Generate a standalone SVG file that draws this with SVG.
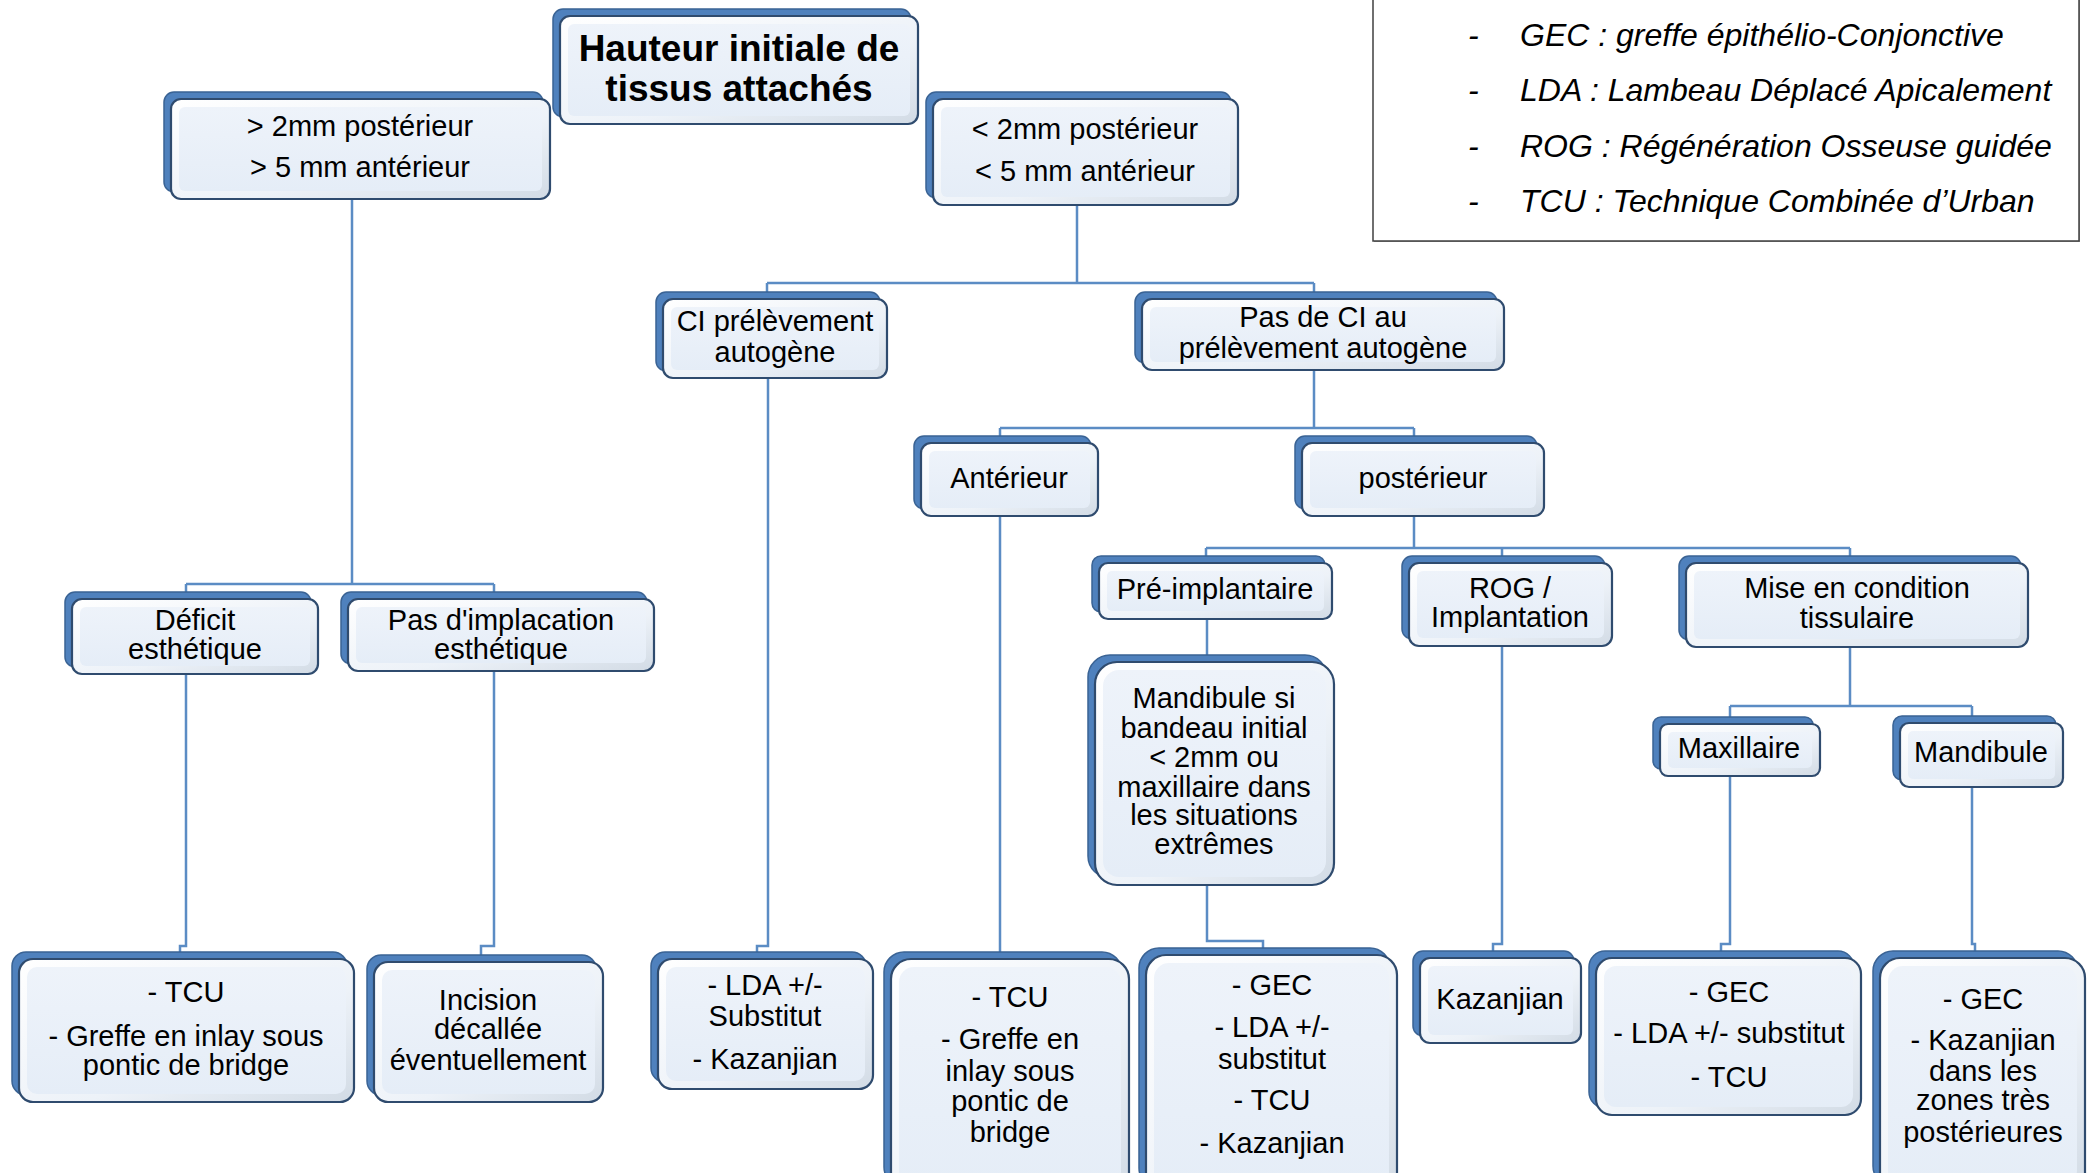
<svg xmlns="http://www.w3.org/2000/svg" width="2092" height="1173" viewBox="0 0 2092 1173">
<defs>
<linearGradient id="face" x1="0" y1="0" x2="1" y2="1">
<stop offset="0" stop-color="#ffffff"/>
<stop offset="0.6" stop-color="#edf2f8"/>
<stop offset="1" stop-color="#d2dbe5"/>
</linearGradient>
<linearGradient id="inner" x1="0" y1="0" x2="0" y2="1">
<stop offset="0" stop-color="#eef3fa"/>
<stop offset="1" stop-color="#e5edf7"/>
</linearGradient>
</defs>
<style>
.bk{fill:#4f81bd;stroke:#3a6394;stroke-width:1.5}
.fr{fill:url(#face);stroke:#2f4b6e;stroke-width:2.2}
.in{fill:url(#inner)}
.t{font-family:"Liberation Sans",Arial,sans-serif;font-size:29px;fill:#000;text-anchor:middle}
.b{font-weight:bold;font-size:37px}
.lg{font-family:"Liberation Sans",Arial,sans-serif;font-size:32px;font-style:italic;fill:#000}
.cn{fill:none;stroke:#5b8cc4;stroke-width:2.5}
</style>
<rect width="2092" height="1173" fill="#ffffff"/>

<g id="legend">
<rect x="1374" y="-1" width="706" height="243" fill="#9a9a9a"/>
<rect x="1373" y="-2" width="706" height="243" fill="#ffffff" stroke="#404040" stroke-width="1.5"/>
<text class="lg" x="1468" y="46">-</text><text class="lg" x="1520" y="46">GEC : greffe épithélio-Conjonctive</text>
<text class="lg" x="1468" y="101">-</text><text class="lg" x="1520" y="101">LDA : Lambeau Déplacé Apicalement</text>
<text class="lg" x="1468" y="157">-</text><text class="lg" x="1520" y="157">ROG : Régénération Osseuse guidée</text>
<text class="lg" x="1468" y="212">-</text><text class="lg" x="1520" y="212">TCU : Technique Combinée d’Urban</text>
</g>

<g id="connectors" class="cn">
<path d="M352 199 V584 M186 584 H494 M186 584 V599 M494 584 V599"/>
<path d="M186 674 V946 H180 V959"/>
<path d="M494 671 V946 H481 V962"/>
<path d="M1077 205 V283 M767 283 H1314 M767 283 V299 M1314 283 V299"/>
<path d="M768 378 V946 H757 V959"/>
<path d="M1314 370 V428 M1000 428 H1414 M1000 428 V443 M1414 428 V443"/>
<path d="M1000 516 V959"/>
<path d="M1414 516 V548 M1206 548 H1850 M1206 548 V563 M1502 548 V563 M1850 548 V563"/>
<path d="M1207 619 V662"/>
<path d="M1207 885 V941 H1263 V955"/>
<path d="M1502 646 V944 H1493 V958"/>
<path d="M1850 647 V706 M1730 706 H1972 M1730 706 V724 M1972 706 V723"/>
<path d="M1730 776 V944 H1721 V958"/>
<path d="M1972 787 V944 H1975 V958"/>
</g>

<g id="root">
<rect class="bk" x="553" y="9" width="358" height="108" rx="10"/>
<rect class="fr" x="560" y="16" width="358" height="108" rx="10"/>
<rect class="in" x="568" y="24" width="342" height="92" rx="6"/>
<text class="t b" x="739" y="61">Hauteur initiale de</text>
<text class="t b" x="739" y="101">tissus attachés</text>
</g>

<g id="n-gt2">
<rect class="bk" x="164" y="92" width="379" height="100" rx="10"/>
<rect class="fr" x="171" y="99" width="379" height="100" rx="10"/>
<rect class="in" x="179" y="107" width="363" height="84" rx="6"/>
<text class="t" x="360" y="136">&gt; 2mm postérieur</text>
<text class="t" x="360" y="177">&gt; 5 mm antérieur</text>
</g>

<g id="n-lt2">
<rect class="bk" x="926" y="92" width="305" height="106" rx="10"/>
<rect class="fr" x="933" y="99" width="305" height="106" rx="10"/>
<rect class="in" x="941" y="107" width="289" height="90" rx="6"/>
<text class="t" x="1085" y="139">&lt; 2mm postérieur</text>
<text class="t" x="1085" y="181">&lt; 5 mm antérieur</text>
</g>

<g id="n-ci">
<rect class="bk" x="656" y="292" width="224" height="79" rx="10"/>
<rect class="fr" x="663" y="299" width="224" height="79" rx="10"/>
<rect class="in" x="671" y="307" width="208" height="63" rx="6"/>
<text class="t" x="775" y="331">CI prélèvement</text>
<text class="t" x="775" y="362">autogène</text>
</g>

<g id="n-pasci">
<rect class="bk" x="1135" y="292" width="362" height="71" rx="10"/>
<rect class="fr" x="1142" y="299" width="362" height="71" rx="10"/>
<rect class="in" x="1150" y="307" width="346" height="55" rx="6"/>
<text class="t" x="1323" y="327">Pas de CI au</text>
<text class="t" x="1323" y="358">prélèvement autogène</text>
</g>

<g id="n-ant">
<rect class="bk" x="914" y="436" width="177" height="73" rx="10"/>
<rect class="fr" x="921" y="443" width="177" height="73" rx="10"/>
<rect class="in" x="929" y="451" width="161" height="57" rx="6"/>
<text class="t" x="1009" y="488">Antérieur</text>
</g>

<g id="n-post">
<rect class="bk" x="1295" y="436" width="242" height="73" rx="10"/>
<rect class="fr" x="1302" y="443" width="242" height="73" rx="10"/>
<rect class="in" x="1310" y="451" width="226" height="57" rx="6"/>
<text class="t" x="1423" y="488">postérieur</text>
</g>

<g id="n-deficit">
<rect class="bk" x="65" y="592" width="246" height="75" rx="10"/>
<rect class="fr" x="72" y="599" width="246" height="75" rx="10"/>
<rect class="in" x="80" y="607" width="230" height="59" rx="6"/>
<text class="t" x="195" y="630">Déficit</text>
<text class="t" x="195" y="659">esthétique</text>
</g>

<g id="n-pasimp">
<rect class="bk" x="341" y="592" width="306" height="72" rx="10"/>
<rect class="fr" x="348" y="599" width="306" height="72" rx="10"/>
<rect class="in" x="356" y="607" width="290" height="56" rx="6"/>
<text class="t" x="501" y="630">Pas d'implacation</text>
<text class="t" x="501" y="659">esthétique</text>
</g>

<g id="n-pre">
<rect class="bk" x="1092" y="556" width="233" height="56" rx="9"/>
<rect class="fr" x="1099" y="563" width="233" height="56" rx="9"/>
<rect class="in" x="1107" y="571" width="217" height="40" rx="5"/>
<text class="t" x="1215" y="599">Pré-implantaire</text>
</g>

<g id="n-rog">
<rect class="bk" x="1402" y="556" width="203" height="83" rx="10"/>
<rect class="fr" x="1409" y="563" width="203" height="83" rx="10"/>
<rect class="in" x="1417" y="571" width="187" height="67" rx="6"/>
<text class="t" x="1510" y="598">ROG /</text>
<text class="t" x="1510" y="627">Implantation</text>
</g>

<g id="n-mise">
<rect class="bk" x="1679" y="556" width="342" height="84" rx="10"/>
<rect class="fr" x="1686" y="563" width="342" height="84" rx="10"/>
<rect class="in" x="1694" y="571" width="326" height="68" rx="6"/>
<text class="t" x="1857" y="598">Mise en condition</text>
<text class="t" x="1857" y="628">tissulaire</text>
</g>

<g id="n-mandsi">
<rect class="bk" x="1088" y="655" width="239" height="223" rx="22"/>
<rect class="fr" x="1095" y="662" width="239" height="223" rx="22"/>
<rect class="in" x="1103" y="670" width="223" height="207" rx="16"/>
<text class="t" x="1214" y="708">Mandibule si</text>
<text class="t" x="1214" y="738">bandeau initial</text>
<text class="t" x="1214" y="767">&lt; 2mm ou</text>
<text class="t" x="1214" y="797">maxillaire dans</text>
<text class="t" x="1214" y="825">les situations</text>
<text class="t" x="1214" y="854">extrêmes</text>
</g>

<g id="n-maxi">
<rect class="bk" x="1653" y="717" width="160" height="52" rx="8"/>
<rect class="fr" x="1660" y="724" width="160" height="52" rx="8"/>
<rect class="in" x="1668" y="732" width="144" height="36" rx="5"/>
<text class="t" x="1739" y="758">Maxillaire</text>
</g>

<g id="n-mandi">
<rect class="bk" x="1893" y="716" width="163" height="64" rx="9"/>
<rect class="fr" x="1900" y="723" width="163" height="64" rx="9"/>
<rect class="in" x="1908" y="731" width="147" height="48" rx="5"/>
<text class="t" x="1981" y="762">Mandibule</text>
</g>

<g id="n-b1">
<rect class="bk" x="12" y="952" width="335" height="143" rx="14"/>
<rect class="fr" x="19" y="959" width="335" height="143" rx="14"/>
<rect class="in" x="27" y="967" width="319" height="127" rx="10"/>
<text class="t" x="186" y="1002">- TCU</text>
<text class="t" x="186" y="1046">- Greffe en inlay sous</text>
<text class="t" x="186" y="1075">pontic de bridge</text>
</g>

<g id="n-b2">
<rect class="bk" x="367" y="955" width="229" height="140" rx="14"/>
<rect class="fr" x="374" y="962" width="229" height="140" rx="14"/>
<rect class="in" x="382" y="970" width="213" height="124" rx="10"/>
<text class="t" x="488" y="1010">Incision</text>
<text class="t" x="488" y="1039">décallée</text>
<text class="t" x="488" y="1070">éventuellement</text>
</g>

<g id="n-b3">
<rect class="bk" x="651" y="952" width="215" height="130" rx="14"/>
<rect class="fr" x="658" y="959" width="215" height="130" rx="14"/>
<rect class="in" x="666" y="967" width="199" height="114" rx="10"/>
<text class="t" x="765" y="995">- LDA +/-</text>
<text class="t" x="765" y="1026">Substitut</text>
<text class="t" x="765" y="1069">- Kazanjian</text>
</g>

<g id="n-b4">
<rect class="bk" x="884" y="952" width="238" height="235" rx="20"/>
<rect class="fr" x="891" y="959" width="238" height="235" rx="20"/>
<rect class="in" x="899" y="967" width="222" height="219" rx="15"/>
<text class="t" x="1010" y="1007">- TCU</text>
<text class="t" x="1010" y="1049">- Greffe en</text>
<text class="t" x="1010" y="1081">inlay sous</text>
<text class="t" x="1010" y="1111">pontic de</text>
<text class="t" x="1010" y="1142">bridge</text>
</g>

<g id="n-b5">
<rect class="bk" x="1139" y="948" width="251" height="240" rx="20"/>
<rect class="fr" x="1146" y="955" width="251" height="240" rx="20"/>
<rect class="in" x="1154" y="963" width="235" height="224" rx="15"/>
<text class="t" x="1272" y="995">- GEC</text>
<text class="t" x="1272" y="1037">- LDA +/-</text>
<text class="t" x="1272" y="1069">substitut</text>
<text class="t" x="1272" y="1110">- TCU</text>
<text class="t" x="1272" y="1153">- Kazanjian</text>
</g>

<g id="n-b6">
<rect class="bk" x="1413" y="951" width="161" height="85" rx="10"/>
<rect class="fr" x="1420" y="958" width="161" height="85" rx="10"/>
<rect class="in" x="1428" y="966" width="145" height="69" rx="6"/>
<text class="t" x="1500" y="1009">Kazanjian</text>
</g>

<g id="n-b7">
<rect class="bk" x="1589" y="951" width="265" height="157" rx="16"/>
<rect class="fr" x="1596" y="958" width="265" height="157" rx="16"/>
<rect class="in" x="1604" y="966" width="249" height="141" rx="12"/>
<text class="t" x="1729" y="1002">- GEC</text>
<text class="t" x="1729" y="1043">- LDA +/- substitut</text>
<text class="t" x="1729" y="1087">- TCU</text>
</g>

<g id="n-b8">
<rect class="bk" x="1873" y="951" width="205" height="235" rx="20"/>
<rect class="fr" x="1880" y="958" width="205" height="235" rx="20"/>
<rect class="in" x="1888" y="966" width="189" height="219" rx="15"/>
<text class="t" x="1983" y="1009">- GEC</text>
<text class="t" x="1983" y="1050">- Kazanjian</text>
<text class="t" x="1983" y="1081">dans les</text>
<text class="t" x="1983" y="1110">zones très</text>
<text class="t" x="1983" y="1142">postérieures</text>
</g>
</svg>
